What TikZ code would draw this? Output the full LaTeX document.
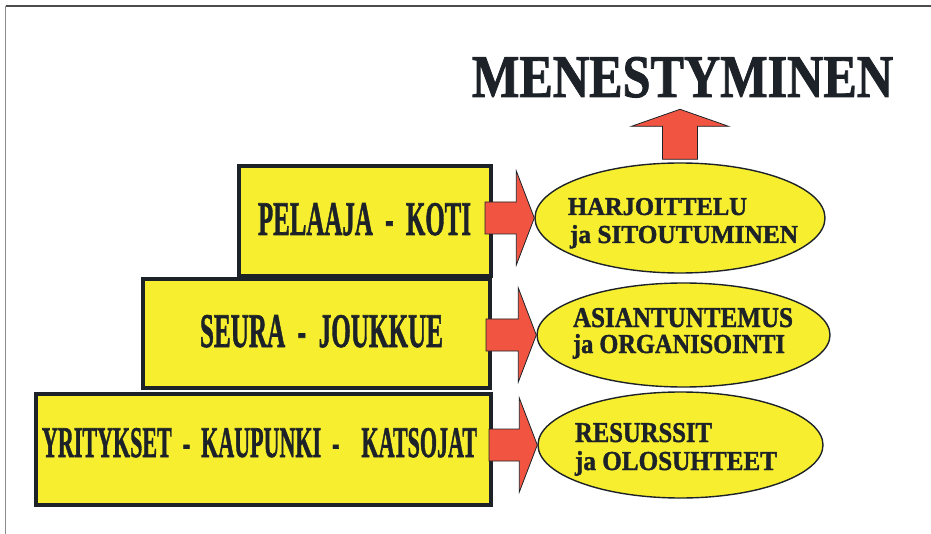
\documentclass[tikz,border=0pt]{standalone}
\usepackage{graphicx}
\usepackage{fontspec}
\setmainfont{Liberation Serif}[BoldFeatures={FakeBold=1.5}]
\usetikzlibrary{shapes.geometric,calc}
\definecolor{boxyellow}{HTML}{F7EE2F}
\definecolor{arrowred}{HTML}{F15541}
\definecolor{inkdark}{HTML}{1C2228}
\newcommand\fitbold[3]{\resizebox{#1pt}{#2pt}{\bfseries #3}}
\newcommand\blockarrow[3]{%
  \draw[redarrow] let \p1=(#1), \p2=(#2) in
    (\x1+#3,\y2+16pt) -- (\x2-18pt,\y2+16pt) -- (\x2-18pt,\y2+47pt) --
    (\x2,\y2) -- (\x2-18pt,\y2-47pt) -- (\x2-18pt,\y2-16pt) --
    (\x1+#3,\y2-16pt) -- cycle;}
\begin{document}
\begin{tikzpicture}[x=1pt,y=-1pt,
  levelbox/.style={draw=inkdark,line width=4pt,fill=boxyellow,rectangle,inner sep=0pt},
  goalell/.style={draw=inkdark,line width=1.4pt,fill=boxyellow,ellipse,inner sep=0pt},
  redarrow/.style={draw=inkdark,line width=0.8pt,fill=arrowred,line join=miter},
  label/.style={inner sep=0pt,outer sep=0pt,anchor=base west,text=inkdark},
  frameline/.style={line width=1.2pt}]
\useasboundingbox (0,0) rectangle (931,534);
% frame
\coordinate (ftl) at (5.5,6);
\coordinate (ftr) at (931,6);
\coordinate (fbl) at (5.5,534);
\draw[frameline,draw=black!70] (ftl) -- (ftr);
\draw[frameline,draw=black!45] (ftl) -- (fbl);
% boxes
\node[levelbox,minimum width=455pt,minimum height=111pt] (b3) at (263.5,449.5) {};
\node[levelbox,minimum width=347pt,minimum height=109pt] (b2) at (316.5,333.5) {};
\node[levelbox,minimum width=252pt,minimum height=110pt] (b1) at (365,221) {};
\node[label] (t1) at (258,235) {\fitbold{213}{32}{PELAAJA\ \ -\ \ KOTI}};
\node[label] (t2) at (200,347) {\fitbold{243}{32}{SEURA\ \ -\ \ JOUKKUE}};
\node[label] (t3) at (42,457) {\fitbold{435}{29}{YRITYKSET\ \ -\ \ KAUPUNKI\ \ -\ \ \ \ KATSOJAT}};
% ellipses
\node[goalell,minimum width=290pt,minimum height=110pt] (e1) at (680,218) {};
\node[goalell,minimum width=293pt,minimum height=104pt] (e2) at (683.5,335) {};
\node[goalell,minimum width=285pt,minimum height=106pt] (e3) at (680.5,445) {};
\node[label] (e1a) at (568,215) {\fitbold{179}{17}{HARJOITTELU}};
\node[label] (e1b) at (570,243) {\fitbold{228}{18}{ja SITOUTUMINEN}};
\node[label] (e2a) at (573,327) {\fitbold{220}{19}{ASIANTUNTEMUS}};
\node[label] (e2b) at (573,353) {\fitbold{212}{19}{ja ORGANISOINTI}};
\node[label] (e3a) at (575,442) {\fitbold{137}{19}{RESURSSIT}};
\node[label] (e3b) at (575,470) {\fitbold{202}{19}{ja OLOSUHTEET}};
% title
\node[label] (title) at (472,97) {\fitbold{421}{40}{MENESTYMINEN}};
% arrows
\blockarrow{b1.east}{e1.west}{-8pt}
\blockarrow{b2.east}{e2.west}{-6pt}
\blockarrow{b3.east}{e3.west}{-4pt}
\draw[redarrow] let \p1=(e1.north), \p2=(title.base) in
  (\x1-17.5pt,\y1+3pt) -- (\x1-17.5pt,\y1+36pt) -- (\x1-48.5pt,\y1+36pt) --
  (\x1,\y1+53pt) -- (\x1+48.5pt,\y1+36pt) -- (\x1+17.5pt,\y1+36pt) --
  (\x1+17.5pt,\y1+3pt) -- cycle;
\end{tikzpicture}
\end{document}
